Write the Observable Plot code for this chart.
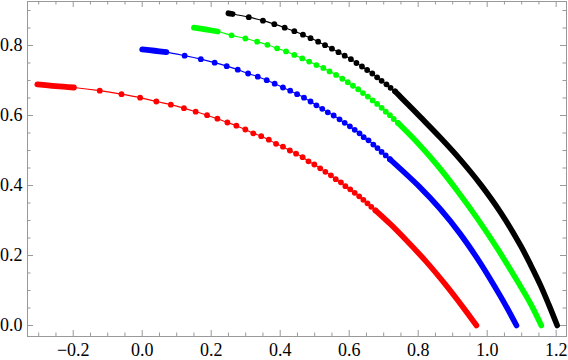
<!DOCTYPE html>
<html><head><meta charset="utf-8">
<script src="https://cdn.jsdelivr.net/npm/d3@7"></script>
<script src="https://cdn.jsdelivr.net/npm/@observablehq/plot@0.6"></script>
<style>body{margin:0;background:#fff} #chart svg{display:block}</style>
</head><body><div id="chart"></div>
<script>
// series
const seriesNames = ["s1", "s2", "s3", "s4"];
const seriesColors = ["#ff0000", "#0000ff", "#00ff00", "#000000"];

// dense start clusters [x, y]
const redStart = [[-0.304,0.689],[-0.251,0.684],[-0.198,0.680]];
const blueStart = [[0.000,0.789],[0.036,0.785],[0.070,0.781]];
const greenStart = [[0.150,0.851],[0.183,0.846],[0.219,0.840]];
const blackStart = [[0.250,0.892],[0.262,0.890]];

// individually visible points [x, y]
const redDots = [[-0.123,0.671],[-0.060,0.661],[-0.006,0.651],[0.041,0.640],[0.083,0.631],[0.121,0.621],[0.155,0.611],[0.188,0.601],[0.218,0.591],[0.247,0.580],[0.273,0.571],[0.299,0.560],[0.322,0.549],[0.345,0.541],[0.367,0.531],[0.388,0.519],[0.408,0.511],[0.428,0.500],[0.446,0.491],[0.465,0.481],[0.482,0.469],[0.499,0.460],[0.516,0.449],[0.531,0.439],[0.547,0.429],[0.561,0.418],[0.576,0.409],[0.589,0.398],[0.603,0.389],[0.616,0.379],[0.629,0.369],[0.641,0.359],[0.653,0.349],[0.664,0.339],[0.676,0.329]];
const blueDots = [[0.123,0.771],[0.170,0.761],[0.210,0.751],[0.245,0.741],[0.277,0.731],[0.307,0.720],[0.335,0.711],[0.361,0.701],[0.384,0.691],[0.408,0.680],[0.429,0.671],[0.449,0.661],[0.469,0.651],[0.488,0.640],[0.505,0.629],[0.522,0.619],[0.538,0.609],[0.555,0.600],[0.572,0.589],[0.587,0.579],[0.602,0.569],[0.616,0.559],[0.630,0.549],[0.642,0.538],[0.656,0.529],[0.670,0.517],[0.682,0.507],[0.694,0.496],[0.706,0.486],[0.718,0.475]];
const greenDots = [[0.259,0.829],[0.299,0.820],[0.333,0.811],[0.363,0.802],[0.391,0.792],[0.417,0.783],[0.441,0.773],[0.464,0.763],[0.484,0.754],[0.505,0.744],[0.525,0.736],[0.543,0.726],[0.562,0.716],[0.580,0.705],[0.596,0.695],[0.611,0.685],[0.626,0.675],[0.640,0.664],[0.654,0.654],[0.668,0.643],[0.681,0.633],[0.694,0.622],[0.706,0.611],[0.718,0.601],[0.729,0.590],[0.741,0.579]];
const blackDots = [[0.309,0.881],[0.350,0.871],[0.383,0.861],[0.413,0.851],[0.441,0.841],[0.466,0.831],[0.488,0.821],[0.510,0.811],[0.530,0.801],[0.550,0.791],[0.569,0.781],[0.587,0.771],[0.605,0.761],[0.621,0.750],[0.637,0.740],[0.652,0.730],[0.667,0.720],[0.681,0.709],[0.694,0.699],[0.708,0.689],[0.720,0.679],[0.733,0.669]];

// dense tails (points merge into a solid band) [x, y]
const redTail = [[0.676,0.329],[0.720,0.289],[0.768,0.241],[0.821,0.185],[0.879,0.117],[0.937,0.043],[0.969,0]];
const blueTail = [[0.718,0.475],[0.749,0.447],[0.805,0.395],[0.863,0.334],[0.921,0.263],[0.979,0.180],[1.037,0.086],[1.060,0.046],[1.085,0]];
const greenTail = [[0.741,0.579],[0.799,0.521],[0.857,0.456],[0.914,0.384],[0.972,0.305],[1.030,0.219],[1.088,0.126],[1.126,0.062],[1.157,0]];
const blackTail = [[0.733,0.669],[0.749,0.653],[0.807,0.595],[0.865,0.536],[0.923,0.473],[0.981,0.403],[1.039,0.323],[1.097,0.228],[1.126,0.173],[1.155,0.114],[1.178,0.061],[1.203,0]];

// ticks
const xMajor = [-0.2, 0, 0.2, 0.4, 0.6, 0.8, 1.0, 1.2];
const xMinor = [-0.3,-0.25,-0.15,-0.1,-0.05,0.05,0.1,0.15,0.25,0.3,0.35,0.45,0.5,0.55,0.65,0.7,0.75,0.85,0.9,0.95,1.05,1.1,1.15];
const yMajor = [0, 0.2, 0.4, 0.6, 0.8];
const yMinor = [0.05,0.1,0.15,0.25,0.3,0.35,0.45,0.5,0.55,0.65,0.7,0.75,0.85,0.9];

const starts = [redStart, blueStart, greenStart, blackStart];
const dots = [redDots, blueDots, greenDots, blackDots];
const tails = [redTail, blueTail, greenTail, blackTail];
const colorOf = Object.fromEntries(seriesNames.map((s, i) => [s, seriesColors[i]]));

const toRows = (arr, s) => arr.map(([x, y]) => ({x, y, s}));
const startRows = [], dotRows = [], tailRows = [], lineRows = [];
seriesNames.forEach((s, i) => {
  startRows.push(...toRows(starts[i], s));
  dotRows.push(...toRows(dots[i], s));
  tailRows.push(...toRows(tails[i], s));
  lineRows.push(...toRows(starts[i], s), ...toRows(dots[i], s), ...toRows(tails[i].slice(1), s));
});

const W = 568, H = 360, mL = 27, mR = 2, mT = 1, mB = 24;
const innerW = W - mL - mR, innerH = H - mT - mB;
const frameColor = "#999";
const R = 2.9;
const FONT = "'Liberation Serif', 'Times New Roman', serif";
const FS = 18;
const col = d => colorOf[d.s];

const chart = Plot.plot({
  width: W, height: H,
  marginLeft: mL, marginRight: mR, marginTop: mT, marginBottom: mB,
  style: {fontFamily: FONT, fontSize: FS + "px", background: "#fff", color: "#000"},
  x: {domain: [-0.3325, 1.2299], axis: null},
  y: {domain: [-0.0314, 0.9257], axis: null},
  marks: [
    Plot.line(lineRows, {x: "x", y: "y", z: "s", stroke: col, strokeWidth: 1.1, curve: "catmull-rom"}),
    Plot.line(startRows, {x: "x", y: "y", z: "s", stroke: col, strokeWidth: 2 * R, strokeLinecap: "round", curve: "catmull-rom"}),
    Plot.line(tailRows, {x: "x", y: "y", z: "s", stroke: col, strokeWidth: 2 * R - 0.2, strokeLinecap: "round", curve: "catmull-rom"}),
    Plot.dot(dotRows, {x: "x", y: "y", fill: col, r: R, stroke: null}),
    Plot.frame({stroke: frameColor, strokeWidth: 1}),
    Plot.ruleX(xMajor, {x: d => d, stroke: frameColor, insetTop: innerH - 6}),
    Plot.ruleX(xMajor, {x: d => d, stroke: frameColor, insetBottom: innerH - 6}),
    Plot.ruleX(xMinor, {x: d => d, stroke: frameColor, insetTop: innerH - 3.5}),
    Plot.ruleX(xMinor, {x: d => d, stroke: frameColor, insetBottom: innerH - 3.5}),
    Plot.ruleY(yMajor, {y: d => d, stroke: frameColor, insetRight: innerW - 6}),
    Plot.ruleY(yMajor, {y: d => d, stroke: frameColor, insetLeft: innerW - 6}),
    Plot.ruleY(yMinor, {y: d => d, stroke: frameColor, insetRight: innerW - 3.5}),
    Plot.ruleY(yMinor, {y: d => d, stroke: frameColor, insetLeft: innerW - 3.5}),
    Plot.text(xMajor, {x: d => d, text: d3.format(".1f"), frameAnchor: "bottom", lineAnchor: "top", dy: 7, fill: "#000", fontFamily: FONT, fontSize: FS}),
    Plot.text(yMajor, {y: d => d, text: d3.format(".1f"), frameAnchor: "left", textAnchor: "end", dx: -5, fill: "#000", fontFamily: FONT, fontSize: FS})
  ]
});
document.getElementById("chart").appendChild(chart);
</script>
</body></html>
